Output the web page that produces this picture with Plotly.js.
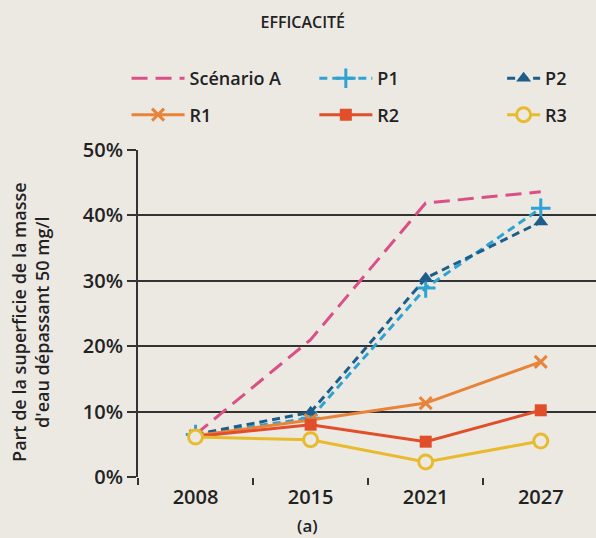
<!DOCTYPE html>
<html>
<head>
<meta charset="utf-8">
<script src="https://cdn.plot.ly/plotly-3.0.1.min.js"></script>
<style>html,body{margin:0;padding:0;background:#ece9e3;}</style>
</head>
<body>
<div id="chart" style="width:596px;height:538px;"></div>
<script>
const years = ['2008', '2015', '2021', '2027'];
const scenarioA = [6.5, 21.0, 41.9, 43.6];
const p1 = [6.5, 9.0, 28.9, 41.1];
const p2 = [6.5, 9.9, 30.4, 39.0];
const r1 = [6.3, 8.7, 11.3, 17.6];
const r2 = [6.2, 8.0, 5.4, 10.2];
const r3 = [6.1, 5.7, 2.3, 5.5];
const yTickVals = [0, 10, 20, 30, 40, 50];
const yTickText = ['0%', '10%', '20%', '30%', '40%', '50%'];

const FONT = '"Open Sans", Lato, sans-serif';
const BG = '#ece9e3';

const traces = [
  {name: 'Scénario A', y: scenarioA, mode: 'lines', legend: 'legend', legendgroup: 'a',
   line: {color: '#d94f86', width: 3, dash: '16px,8px'}},
  {name: 'P1', y: p1, mode: 'lines+markers', legend: 'legend2', legendgroup: 'b',
   line: {color: '#2ea3d3', width: 3, dash: '8px,5px'},
   marker: {symbol: 'cross-thin', size: 14, line: {color: '#2ea3d3', width: 3}}},
  {name: 'P2', y: p2, mode: 'lines+markers', legend: 'legend3', legendgroup: 'c',
   line: {color: '#1c5d8a', width: 3, dash: '8px,5px'},
   marker: {symbol: 'triangle-up', size: 13, color: '#1c5d8a'}},
  {name: 'R1', y: r1, mode: 'lines+markers', legend: 'legend', legendgroup: 'd',
   line: {color: '#e8843a', width: 3},
   marker: {symbol: 'x-thin', size: 12, line: {color: '#e8843a', width: 3}}},
  {name: 'R2', y: r2, mode: 'lines+markers', legend: 'legend2', legendgroup: 'e',
   line: {color: '#e04e2a', width: 3},
   marker: {symbol: 'square', size: 12, color: '#e04e2a'}},
  {name: 'R3', y: r3, mode: 'lines+markers', legend: 'legend3', legendgroup: 'f',
   line: {color: '#e8bb2e', width: 3},
   marker: {symbol: 'circle', size: 14, color: BG, line: {color: '#e8bb2e', width: 3}}}
].map(t => Object.assign({x: years, type: 'scatter', hoverinfo: 'skip'}, t));

const legendBase = {
  orientation: 'v', y: 1.275, yanchor: 'top', xanchor: 'left',
  itemwidth: 53, tracegroupgap: 10, traceorder: 'grouped',
  font: {family: FONT, size: 18, color: '#222', weight: 600},
  bgcolor: 'rgba(0,0,0,0)', borderwidth: 0
};

const layout = {
  width: 596, height: 538,
  paper_bgcolor: BG, plot_bgcolor: BG,
  margin: {l: 138, r: 0, t: 150, b: 61},
  font: {family: FONT, color: '#222', size: 17},
  title: {text: 'EFFICACITÉ', x: 0.508, xanchor: 'center', y: 0.958, yanchor: 'middle',
          font: {family: FONT, size: 16, color: '#222', weight: 600}},
  showlegend: true,
  legend: Object.assign({}, legendBase, {x: -0.025}),
  legend2: Object.assign({}, legendBase, {x: 0.385}),
  legend3: Object.assign({}, legendBase, {x: 0.795, itemwidth: 33}),
  xaxis: {type: 'category', range: [-0.5, 3.48], tickson: 'boundaries',
          ticks: 'outside', ticklen: 7, tickwidth: 2, tickcolor: '#333',
          ticklabelstandoff: 6,
          showgrid: false, zeroline: false, showline: false,
          tickfont: {family: FONT, size: 20, color: '#222', weight: 600},
          fixedrange: true},
  yaxis: {range: [0, 50], tickvals: yTickVals, ticktext: yTickText,
          ticks: 'outside', ticklen: 9, tickwidth: 2, tickcolor: '#333',
          showgrid: true, gridcolor: '#333', gridwidth: 2,
          zeroline: false, showline: true, linecolor: '#333', linewidth: 2,
          tickfont: {family: FONT, size: 20, color: '#222', weight: 600},
          fixedrange: true},
  annotations: [
    {text: '(a)', xref: 'paper', yref: 'paper', x: 0.37, y: -0.149,
     xanchor: 'center', yanchor: 'middle', showarrow: false,
     font: {family: FONT, size: 17, color: '#222', weight: 600}},
    {text: 'Part de la superficie de la masse<br>d\'eau dépassant 50 mg/l',
     xref: 'paper', yref: 'paper', x: -0.236, y: 0.474, textangle: -90,
     xanchor: 'center', yanchor: 'middle', showarrow: false, align: 'center',
     font: {family: FONT, size: 18, color: '#222', weight: 600}}
  ]
};

Plotly.newPlot('chart', traces, layout, {displayModeBar: false, staticPlot: true});
</script>
</body>
</html>
